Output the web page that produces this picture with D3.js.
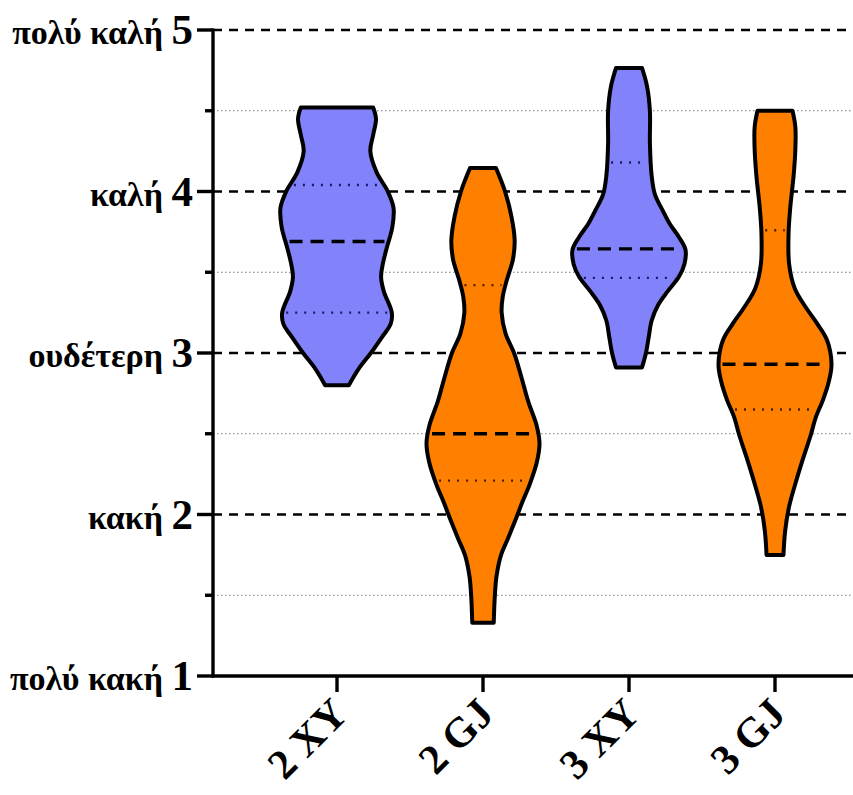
<!DOCTYPE html>
<html>
<head>
<meta charset="utf-8">
<script src="https://cdn.jsdelivr.net/npm/d3@7"></script>
<style>
  html, body { margin: 0; padding: 0; background: #fff; }
  svg { display: block; }
</style>
</head>
<body>
<svg id="chart" width="853" height="795"></svg>
<script>
// Rating scale and its verbal labels
const yTicks = [1, 2, 3, 4, 5];
const yTickNames = ["πολύ κακή", "κακή", "ουδέτερη", "καλή", "πολύ καλή"];
const yMinorTicks = [1.5, 2.5, 3.5, 4.5];

// Groups
const groups = ["2 XY", "2 GJ", "3 XY", "3 GJ"];
const groupColors = ["#8282fb", "#ff8000", "#8282fb", "#ff8000"];

// Kernel density outlines per group: [rating, relative density]
const density2XY = [[4.52,0.64],[4.45,0.69],[4.35,0.64],[4.25,0.59],[4.12,0.70],[4.00,0.90],[3.90,1.0],[3.78,0.98],[3.65,0.88],[3.55,0.81],[3.47,0.78],[3.38,0.83],[3.25,0.97],[3.18,0.95],[3.10,0.80],[3.00,0.60],[2.90,0.38],[2.80,0.21]];
const density2GJ = [[4.145,0.23],[4.00,0.39],[3.85,0.50],[3.70,0.56],[3.58,0.53],[3.45,0.42],[3.35,0.35],[3.25,0.33],[3.12,0.40],[3.00,0.55],[2.85,0.68],[2.70,0.80],[2.55,0.95],[2.44,1.0],[2.32,0.95],[2.19,0.83],[2.08,0.70],[1.98,0.59],[1.85,0.44],[1.75,0.32],[1.62,0.24],[1.50,0.21],[1.33,0.19]];
const density3XY = [[4.765,0.23],[4.65,0.32],[4.50,0.37],[4.30,0.37],[4.10,0.40],[3.98,0.46],[3.88,0.60],[3.80,0.72],[3.72,0.88],[3.64,1.0],[3.55,0.98],[3.47,0.88],[3.38,0.68],[3.30,0.52],[3.20,0.40],[3.10,0.35],[3.00,0.30],[2.91,0.23]];
const density3GJ = [[4.50,0.31],[4.40,0.36],[4.26,0.36],[4.10,0.33],[3.90,0.27],[3.74,0.24],[3.55,0.25],[3.40,0.35],[3.28,0.55],[3.18,0.75],[3.08,0.92],[2.93,1.0],[2.82,0.95],[2.71,0.85],[2.60,0.72],[2.50,0.64],[2.35,0.50],[2.19,0.36],[2.05,0.25],[1.90,0.18],[1.75,0.15]];
const densities = [density2XY, density2GJ, density3XY, density3GJ];

// Quartiles: [Q1, median, Q3]
const quartiles = [[3.25, 3.69, 4.04], [2.21, 2.50, 3.42], [3.465, 3.645, 4.18], [2.65, 2.93, 3.76]];

const svg = d3.select("#chart");
const axisX = 213, plotTop = 30, plotBottom = 676, plotRight = 853;
const serif = "'Liberation Serif', 'Times New Roman', serif";

const y = d3.scaleLinear().domain([1, 5]).range([plotBottom, plotTop]);
const x = d3.scalePoint().domain(groups).range([337, 775]);
const w = d3.scaleLinear().domain([0, 1]).range([0, 56.5]);

// Grid lines
svg.append("g").selectAll("line").data(yTicks.filter(v => v > 1)).join("line")
  .attr("x1", axisX).attr("x2", plotRight)
  .attr("y1", d => y(d)).attr("y2", d => y(d))
  .attr("stroke", "#000").attr("stroke-width", 2.4).attr("stroke-dasharray", "9,7");
svg.append("g").selectAll("line").data(yMinorTicks).join("line")
  .attr("x1", axisX).attr("x2", plotRight)
  .attr("y1", d => y(d)).attr("y2", d => y(d))
  .attr("stroke", "#777").attr("stroke-width", 1.2).attr("stroke-dasharray", "1.5,2.5");

// Violins
const area = d3.area()
  .curve(d3.curveCatmullRom.alpha(0.5))
  .y(d => y(d[0]));

function halfWidthAt(dens, v) {
  const s = dens.slice().sort((a, b) => a[0] - b[0]);
  for (let i = 0; i < s.length - 1; i++) {
    if (v >= s[i][0] && v <= s[i + 1][0]) {
      const t = (v - s[i][0]) / (s[i + 1][0] - s[i][0]);
      return w(s[i][1] + t * (s[i + 1][1] - s[i][1]));
    }
  }
  return 0;
}

groups.forEach((g, i) => {
  const cx = x(g);
  const gg = svg.append("g");
  gg.append("path")
    .datum(densities[i])
    .attr("d", area.x0(d => cx - w(d[1])).x1(d => cx + w(d[1])))
    .attr("fill", groupColors[i])
    .attr("stroke", "#000").attr("stroke-width", 4)
    .attr("stroke-linejoin", "round");
  quartiles[i].forEach((q, k) => {
    const hw = halfWidthAt(densities[i], q) - 4;
    gg.append("line")
      .attr("x1", cx - hw).attr("x2", cx + hw)
      .attr("y1", y(q)).attr("y2", y(q))
      .attr("stroke", k === 1 ? "#000" : (i % 2 === 0 ? "#1a1a66" : "#4a2000"))
      .attr("stroke-width", k === 1 ? 3.4 : 2.4)
      .attr("stroke-dasharray", k === 1 ? "13,8" : "2,7");
  });
});

// Y axis
const yAxis = svg.append("g");
yAxis.append("line").attr("x1", axisX).attr("x2", axisX)
  .attr("y1", plotTop - 1.5).attr("y2", plotBottom + 1.5)
  .attr("stroke", "#000").attr("stroke-width", 3.4);
yAxis.selectAll(".major").data(yTicks).join("line").attr("class", "major")
  .attr("x1", 197).attr("x2", axisX)
  .attr("y1", d => y(d)).attr("y2", d => y(d))
  .attr("stroke", "#000").attr("stroke-width", 3.4);
yAxis.selectAll(".minor").data(yMinorTicks).join("line").attr("class", "minor")
  .attr("x1", 205).attr("x2", axisX)
  .attr("y1", d => y(d)).attr("y2", d => y(d))
  .attr("stroke", "#000").attr("stroke-width", 3.4);
const yl = yAxis.selectAll("text").data(yTicks).join("text")
  .attr("x", 193).attr("y", d => y(d) + 14)
  .attr("text-anchor", "end")
  .attr("font-family", serif)
  .attr("font-weight", "bold");
yl.append("tspan").attr("font-size", 34).text((d, i) => yTickNames[i] + " ");
yl.append("tspan").attr("font-size", 43).text(d => d);

// X axis
const xAxis = svg.append("g");
xAxis.append("line").attr("x1", axisX - 1.7).attr("x2", plotRight)
  .attr("y1", plotBottom).attr("y2", plotBottom)
  .attr("stroke", "#000").attr("stroke-width", 3.4);
xAxis.selectAll(".tick").data(groups).join("line").attr("class", "tick")
  .attr("x1", d => x(d)).attr("x2", d => x(d))
  .attr("y1", plotBottom).attr("y2", plotBottom + 16)
  .attr("stroke", "#000").attr("stroke-width", 3.4);
xAxis.selectAll("text").data(groups).join("text")
  .attr("transform", d => `translate(${x(d) + 13},${plotBottom + 40}) rotate(-45)`)
  .attr("text-anchor", "end")
  .attr("font-family", serif)
  .attr("font-weight", "bold")
  .attr("font-size", 42)
  .text(d => d);
</script>
</body>
</html>
